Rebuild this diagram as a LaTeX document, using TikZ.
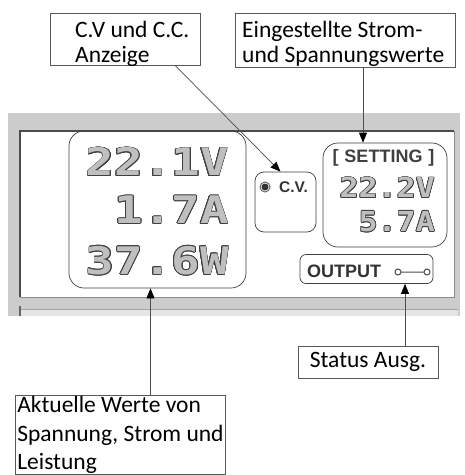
\documentclass[tikz,border=0pt]{standalone}
\usepackage{fontspec}
\usepackage{contour}
\setmainfont{Carlito}
\newfontfamily\lcdfont{DejaVu Sans Mono}
\newfontfamily\panelfont{Liberation Sans}
\usetikzlibrary{arrows.meta}
\contourlength{0.6pt}
\newcommand\lcdbig{\lcdfont\bfseries\fontsize{38}{38}\selectfont}
\newcommand\lcdsmall{\lcdfont\bfseries\fontsize{27.5}{27.5}\selectfont}
\newcommand\lcdtext[2]{\scalebox{#1}[1]{\contour{black!75}{\textcolor{black!25}{#2}}}}
\newcommand\calloutfont{\fontsize{23.5}{25}\selectfont}
\newcommand\calloutfontb{\fontsize{23.5}{28.5}\selectfont}

\begin{document}
\begin{tikzpicture}[x=1pt,y=-1pt,
  callout/.style={draw=black!65,line width=0.7pt,align=left,inner xsep=2pt,inner ysep=1pt},
  callouttext/.style={anchor=north west,align=left,inner sep=0pt,font=\calloutfont},
  lcdbox/.style={draw=black!75,line width=0.7pt,rounded corners=#1},
  lcdbox/.default=15pt,
  lcd/.style={anchor=east,inner sep=0pt},
  pointer/.style={draw=black!70,line width=0.7pt,-{Triangle[length=10pt,width=8pt,black]}}]
\useasboundingbox (0,0) rectangle (465,475);

% panel
\fill[black!20] (8,113) rectangle (460,316);
\fill[white] (20,131) rectangle (454,297);
\draw[black!45,line width=1pt] (454,131) -- (454,297) -- (20,297);
\draw[black!70,line width=2pt] (20,297) -- (20,131) -- (454,131);
\fill[black!10] (20,309) rectangle (458,316);
\draw[black!35] (20,309) -- (458,309);
\draw[black!60,line width=1.5pt] (20,306) -- (20,316);

% display fields
\node[lcdbox,minimum width=177pt,minimum height=157pt] (ist) at (157.5,209.5) {};
\node[lcdbox=9pt,minimum width=61pt,minimum height=60pt] (cv) at (285.5,202) {};
\node[lcdbox,minimum width=124pt,minimum height=104pt] (set) at (385,195) {};
\node[lcdbox=6pt,minimum width=133pt,minimum height=29pt] (out) at (366.5,269) {};

\node[lcd,font=\lcdbig] (u) at (229,162) {\lcdtext{1.25}{22.1V}};
\node[lcd,font=\lcdbig] (i) at (229,210) {\lcdtext{1.25}{1.7A}};
\node[lcd,font=\lcdbig] (p) at (229,261) {\lcdtext{1.25}{37.6W}};

\node[font=\panelfont\bfseries\fontsize{18}{18}\selectfont,text=black!75,inner sep=0pt] (head) at (383.5,158) {[\hspace{6pt}SETTING\hspace{6pt}]};
\node[lcd,font=\lcdsmall] (uset) at (435,188) {\lcdtext{1.15}{22.2V}};
\node[lcd,font=\lcdsmall] (iset) at (435,222) {\lcdtext{1.15}{5.7A}};

\fill[black!80] (265,187) circle (3.5pt);
\draw[black!60,line width=1pt] (265,187) circle (5pt);
\node[anchor=west,inner sep=0pt,font=\panelfont\bfseries\fontsize{15.5}{15.5}\selectfont,text=black!80] (mode) at (279,187.5) {C.V.};

\node[anchor=west,inner sep=0pt,font=\panelfont\bfseries\fontsize{18}{18}\selectfont,text=black!80] (outtxt) at (307,271.5) {OUTPUT};
\draw[black!70,line width=1pt] (398,272) circle (3pt) (401,272) -- (424,272) (427,272) circle (3pt);

% callouts
\node[callout,minimum width=150pt,minimum height=52pt] (cvlabel) at (125,39) {};
\node[callouttext] (cvtext) at (75,21) {C.V und C.C.\\Anzeige};
\node[callout,minimum width=220pt,minimum height=54pt] (setlabel) at (345,40) {};
\node[callouttext] (settext) at (242,21) {Eingestellte Strom-\\und Spannungswerte};
\node[callout,font=\calloutfont,minimum width=140pt,minimum height=32pt] (status) at (368,362) {Status Ausg.};
\node[callout,font=\calloutfontb,anchor=north west] (akt) at (15,395) {Aktuelle Werte von\\Spannung, Strom und\\Leistung};

\draw[pointer] ([xshift=50pt]cvlabel.south) -- ([xshift=-5pt]cv.north);
\draw[pointer] ([xshift=18pt]setlabel.south) coordinate (s) -- (s |- set.north);
\draw[pointer] ([xshift=30pt]akt.north) coordinate (a) -- (a |- ist.south);
\draw[pointer] ([xshift=37pt]status.north) coordinate (b) -- (b |- out.south);
\end{tikzpicture}
\end{document}
